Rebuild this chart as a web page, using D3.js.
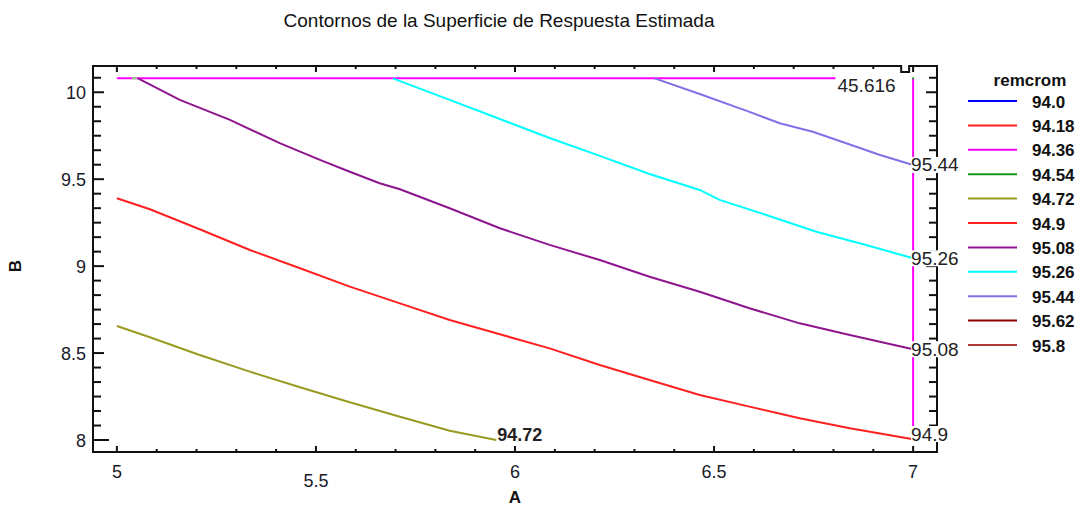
<!DOCTYPE html>
<html><head><meta charset="utf-8">
<script src="https://cdn.jsdelivr.net/npm/d3@7/dist/d3.min.js"></script>
<style>body{margin:0;background:#fff}svg{display:block}text{font-family:"Liberation Sans",Arial,sans-serif}</style>
</head><body>
<script>
// ---- data ----
const title = "Contornos de la Superficie de Respuesta Estimada";
const xLabel = "A", yLabel = "B";
const xTickLabels = [5, 5.5, 6, 6.5, 7];
const yTickLabels = [8, 8.5, 9, 9.5, 10];
const legendTitle = "remcrom";
const legendLevels = ["94.0","94.18","94.36","94.54","94.72","94.9","95.08","95.26","95.44","95.62","95.8"];
const legendColors = ["#0000ff","#ff2020","#ff00ff","#1a9a1a","#9a9a20","#ff2020","#8e158e","#00ffff","#7f72e8","#8b0000","#b03a3a"];

// contour lines (A, B)
const c9472 = [[5.0,8.656],[5.083,8.591],[5.208,8.489],[5.334,8.393],[5.460,8.303],[5.585,8.217],[5.711,8.134],[5.836,8.053],[5.953,8.0]];
const c949 = [[5.0,9.390],[5.083,9.327],[5.208,9.212],[5.334,9.093],[5.460,8.988],[5.585,8.882],[5.711,8.786],[5.836,8.690],[5.962,8.608],[6.087,8.527],[6.213,8.431],[6.338,8.345],[6.464,8.259],[6.589,8.192],[6.715,8.125],[6.841,8.067],[7.0,8.004]];
const c9508 = [[5.053,10.08],[5.158,9.956],[5.284,9.841],[5.409,9.707],[5.510,9.611],[5.585,9.543],[5.660,9.477],[5.711,9.442],[5.836,9.333],[5.962,9.218],[6.087,9.122],[6.213,9.035],[6.338,8.939],[6.464,8.853],[6.589,8.758],[6.715,8.671],[6.841,8.604],[7.0,8.522]];
const c9526 = [[5.693,10.08],[5.836,9.956],[5.962,9.846],[6.087,9.737],[6.213,9.634],[6.338,9.530],[6.464,9.438],[6.514,9.381],[6.631,9.294],[6.757,9.198],[6.882,9.122],[7.0,9.045]];
const c9544 = [[6.351,10.08],[6.464,9.990],[6.589,9.887],[6.665,9.822],[6.748,9.773],[6.832,9.707],[6.917,9.639],[7.0,9.582]];
const c9436top = [[5.0,10.08],[6.805,10.08]];
const c9436right = [[7.0,10.08],[7.0,8.0]];
const c9454a = [[5.038,10.08],[5.050,10.08]];
const c9454b = [[7.0,10.085],[7.0,10.075]];

const contours = [
  {pts:c9436top, color:legendColors[2], label:"45.616", pos:"top"},
  {pts:c9436right, color:legendColors[2], label:null},
  {pts:c9454a, color:"#7fdc7f", label:null},
  {pts:c9454b, color:legendColors[3], label:null},
  {pts:c9472, color:legendColors[4], label:"94.72", pos:"bottom", bold:true},
  {pts:c949, color:legendColors[5], label:"94.9", pos:"right"},
  {pts:c9508, color:legendColors[6], label:"95.08", pos:"right"},
  {pts:c9526, color:legendColors[7], label:"95.26", pos:"right"},
  {pts:c9544, color:legendColors[8], label:"95.44", pos:"right"}
];

// ---- layout ----
const W = 1082, H = 509;
const svg = d3.select("body").append("svg").attr("width", W).attr("height", H);
const x = d3.scaleLinear().domain([4.94, 7.06]).range([93, 937]);
const y = d3.scaleLinear().domain([7.931, 10.151]).range([452, 66]);

svg.append("text").attr("x", 499).attr("y", 27).attr("text-anchor","middle")
  .attr("font-size", 19).attr("fill","#111").text(title);

// frame
const g = svg.append("g");
const fr = {l:x.range()[0], r:x.range()[1], t:y.range()[1], b:y.range()[0]};
g.append("path").attr("fill","none").attr("stroke","#111").attr("stroke-width",2)
  .attr("d", `M${fr.l},${fr.b}V${fr.t}H${x(6.97)}V${fr.t+6}H${x(6.99)}V${fr.t}H${fr.r}V${fr.b}Z`);

// ticks
const xMinor = d3.range(0, 21).map(i => 5 + i * 0.1);
const yMinor = d3.range(0, 26).map(i => 8 + i / 12);
const isMaj = v => Math.abs(v*2 - Math.round(v*2)) < 1e-6;
const tk = g.append("g").attr("stroke","#111").attr("stroke-width",2);
xMinor.forEach(v => {
  const L = isMaj(v) ? 6 : 3;
  tk.append("line").attr("x1",x(v)).attr("x2",x(v)).attr("y1",fr.b).attr("y2",fr.b-L);
  tk.append("line").attr("x1",x(v)).attr("x2",x(v)).attr("y1",fr.t).attr("y2",fr.t+L);
});
yMinor.forEach(v => {
  const L = Math.abs(v-8) < 1e-6 ? 16 : (isMaj(v) ? 11 : 8);
  tk.append("line").attr("y1",y(v)).attr("y2",y(v)).attr("x1",fr.l).attr("x2",fr.l+L);
  tk.append("line").attr("y1",y(v)).attr("y2",y(v)).attr("x1",fr.r).attr("x2",fr.r-L);
});

// tick labels
svg.append("g").selectAll("text").data(xTickLabels).join("text")
  .attr("x", d => x(d)).attr("y", d => d === 5.5 ? 487 : 478)
  .attr("text-anchor","middle").attr("font-size",18).attr("fill","#1a1a2a").text(d => d);
svg.append("g").selectAll("text").data(yTickLabels).join("text")
  .attr("x", 86).attr("y", d => y(d) + 6.5)
  .attr("text-anchor","end").attr("font-size",18).attr("fill","#1a1a2a").text(d => d);

svg.append("text").attr("x", x(6)).attr("y", 503).attr("text-anchor","middle")
  .attr("font-size",17).attr("font-weight","bold").attr("fill","#111").text(xLabel);
svg.append("text").attr("transform",`translate(21,${y(9)}) rotate(-90)`).attr("text-anchor","middle")
  .attr("font-size",17).attr("font-weight","bold").attr("fill","#111").text(yLabel);

// contours
const line = d3.line().x(d => x(d[0])).y(d => y(d[1]));
const cg = svg.append("g");
contours.forEach(c => {
  cg.append("path").attr("d", line(c.pts)).attr("fill","none")
    .attr("stroke", c.color).attr("stroke-width", 2);
});

// contour labels
const lg = svg.append("g");
contours.filter(c => c.label).forEach(c => {
  const end = c.pts[c.pts.length - 1];
  let tx, ty;
  if (c.pos === "right") { tx = x(end[0]) - 2; ty = Math.min(y(end[1]), y(8) - 6); }
  else if (c.pos === "bottom") { tx = x(end[0]) + 1; ty = y(end[1]) - 6; }
  else { tx = x(end[0]) + 2; ty = y(end[1]) + 7; }
  const t = lg.append("text").attr("x", tx).attr("y", ty + 6.5)
    .attr("font-size", c.bold ? 18 : 19).attr("font-weight", c.bold ? "bold" : "normal")
    .attr("fill","#222").text(c.label);
  const bb = t.node().getBBox();
  lg.insert("rect", () => t.node()).attr("x", bb.x).attr("y", ty - 8)
    .attr("width", bb.width).attr("height", 16).attr("fill","#fff");
});

// legend
const leg = svg.append("g");
leg.append("text").attr("x", 1030).attr("y", 86).attr("text-anchor","middle")
  .attr("font-size",17).attr("font-weight","bold").attr("fill","#111").text(legendTitle);
legendLevels.forEach((lv, i) => {
  const yy = 101 + i * 24.4;
  leg.append("line").attr("x1", 968).attr("x2", 1017).attr("y1", yy).attr("y2", yy)
    .attr("stroke", legendColors[i]).attr("stroke-width", 2);
  leg.append("text").attr("x", 1032).attr("y", yy + 6.5).attr("font-size",17)
    .attr("font-weight","bold").attr("fill","#111").text(lv);
});
</script>
</body></html>
